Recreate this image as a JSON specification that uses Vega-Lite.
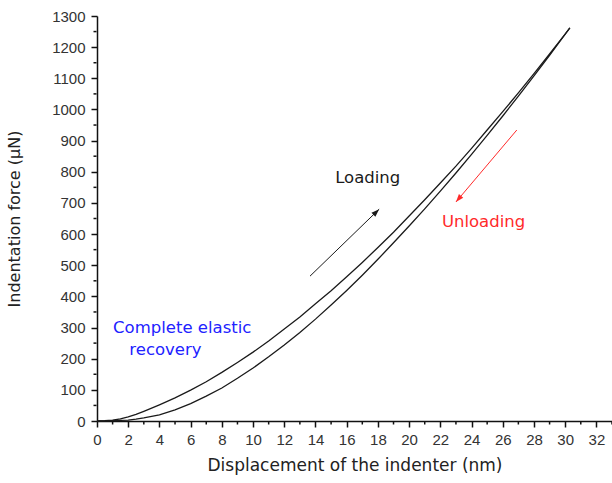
{
  "$schema": "https://vega.github.io/schema/vega-lite/v6.json",
  "width": 515,
  "height": 405,
  "autosize": {"type": "none"},
  "padding": {"left": 97, "top": 16, "right": 0, "bottom": 62},
  "background": "white",
  "config": {
    "view": {"stroke": null},
    "font": "Liberation Sans",
    "axis": {
      "domainColor": "#111111",
      "domainWidth": 1.5,
      "tickColor": "#111111",
      "tickWidth": 1.5,
      "labelColor": "#333333",
      "titleColor": "#222222",
      "labelFont": "Liberation Sans",
      "titleFont": "DejaVu Sans",
      "labelFontSize": 15,
      "titleFontWeight": "normal",
      "grid": false
    }
  },
  "datasets": {
    "curves": [
      {"branch": "loading", "x": 0, "F": 0},
      {"branch": "loading", "x": 0.5, "F": 1},
      {"branch": "loading", "x": 1, "F": 3},
      {"branch": "loading", "x": 1.5, "F": 7},
      {"branch": "loading", "x": 2, "F": 13},
      {"branch": "loading", "x": 2.5, "F": 21},
      {"branch": "loading", "x": 3, "F": 31},
      {"branch": "loading", "x": 4, "F": 52},
      {"branch": "loading", "x": 5, "F": 74},
      {"branch": "loading", "x": 6, "F": 99},
      {"branch": "loading", "x": 7, "F": 126},
      {"branch": "loading", "x": 8, "F": 156},
      {"branch": "loading", "x": 9, "F": 188},
      {"branch": "loading", "x": 10, "F": 221},
      {"branch": "loading", "x": 11, "F": 257},
      {"branch": "loading", "x": 12, "F": 295},
      {"branch": "loading", "x": 13, "F": 334},
      {"branch": "loading", "x": 14, "F": 376},
      {"branch": "loading", "x": 15, "F": 418},
      {"branch": "loading", "x": 16, "F": 463},
      {"branch": "loading", "x": 17, "F": 509},
      {"branch": "loading", "x": 18, "F": 557},
      {"branch": "loading", "x": 19, "F": 606},
      {"branch": "loading", "x": 20, "F": 658},
      {"branch": "loading", "x": 21, "F": 710},
      {"branch": "loading", "x": 22, "F": 764},
      {"branch": "loading", "x": 23, "F": 818},
      {"branch": "loading", "x": 24, "F": 875},
      {"branch": "loading", "x": 25, "F": 934},
      {"branch": "loading", "x": 26, "F": 993},
      {"branch": "loading", "x": 27, "F": 1053},
      {"branch": "loading", "x": 28, "F": 1115},
      {"branch": "loading", "x": 29, "F": 1178},
      {"branch": "loading", "x": 30, "F": 1242},
      {"branch": "loading", "x": 30.3, "F": 1262},
      {"branch": "unloading", "x": 0, "F": 0},
      {"branch": "unloading", "x": 0.5, "F": 0},
      {"branch": "unloading", "x": 1, "F": 1},
      {"branch": "unloading", "x": 1.5, "F": 2},
      {"branch": "unloading", "x": 2, "F": 3},
      {"branch": "unloading", "x": 2.5, "F": 6},
      {"branch": "unloading", "x": 3, "F": 10},
      {"branch": "unloading", "x": 4, "F": 20},
      {"branch": "unloading", "x": 5, "F": 36},
      {"branch": "unloading", "x": 6, "F": 56},
      {"branch": "unloading", "x": 7, "F": 80},
      {"branch": "unloading", "x": 8, "F": 106},
      {"branch": "unloading", "x": 9, "F": 137},
      {"branch": "unloading", "x": 10, "F": 170},
      {"branch": "unloading", "x": 11, "F": 206},
      {"branch": "unloading", "x": 12, "F": 244},
      {"branch": "unloading", "x": 13, "F": 284},
      {"branch": "unloading", "x": 14, "F": 327},
      {"branch": "unloading", "x": 15, "F": 372},
      {"branch": "unloading", "x": 16, "F": 419},
      {"branch": "unloading", "x": 17, "F": 468},
      {"branch": "unloading", "x": 18, "F": 519},
      {"branch": "unloading", "x": 19, "F": 572},
      {"branch": "unloading", "x": 20, "F": 626},
      {"branch": "unloading", "x": 21, "F": 681},
      {"branch": "unloading", "x": 22, "F": 738},
      {"branch": "unloading", "x": 23, "F": 796},
      {"branch": "unloading", "x": 24, "F": 856},
      {"branch": "unloading", "x": 25, "F": 917},
      {"branch": "unloading", "x": 26, "F": 979},
      {"branch": "unloading", "x": 27, "F": 1043},
      {"branch": "unloading", "x": 28, "F": 1108},
      {"branch": "unloading", "x": 29, "F": 1174},
      {"branch": "unloading", "x": 30, "F": 1242},
      {"branch": "unloading", "x": 30.3, "F": 1262}
    ],
    "labels": [
      {"label": "Loading", "x": 15.26, "F": 780, "kind": "black"},
      {"label": "Unloading", "x": 22.1, "F": 640, "kind": "red"},
      {"label": "Complete elastic", "x": 1.03, "F": 300, "kind": "blue"},
      {"label": "recovery", "x": 2.07, "F": 228, "kind": "blue"}
    ],
    "arrows": [
      {"kind": "black", "x": 13.65, "F": 465, "x2": 18.08, "F2": 680},
      {"kind": "red", "x": 26.9, "F": 934, "x2": 23.0, "F2": 703}
    ],
    "minorX": [
      {"v": 1}, {"v": 3}, {"v": 5}, {"v": 7}, {"v": 9}, {"v": 11}, {"v": 13}, {"v": 15}, {"v": 17},
      {"v": 19}, {"v": 21}, {"v": 23}, {"v": 25}, {"v": 27}, {"v": 29}, {"v": 31}, {"v": 33}
    ],
    "minorY": [
      {"v": 50}, {"v": 150}, {"v": 250}, {"v": 350}, {"v": 450}, {"v": 550}, {"v": 650},
      {"v": 750}, {"v": 850}, {"v": 950}, {"v": 1050}, {"v": 1150}, {"v": 1250}
    ]
  },
  "layer": [
    {
      "data": {"name": "curves"},
      "mark": {"type": "line", "color": "#1a1a1a", "strokeWidth": 1.3},
      "encoding": {
        "x": {
          "field": "x", "type": "quantitative",
          "scale": {"domain": [0, 33], "nice": false, "zero": false},
          "axis": {
            "orient": "bottom",
            "values": [0, 2, 4, 6, 8, 10, 12, 14, 16, 18, 20, 22, 24, 26, 28, 30, 32],
            "tickSize": 6, "labelPadding": 5, "titlePadding": 10,
            "titleFontSize": 17,
            "labelFlush": false, "labelOverlap": false,
            "title": "Displacement of the indenter (nm)"
          }
        },
        "y": {
          "field": "F", "type": "quantitative",
          "scale": {"domain": [0, 1300], "nice": false, "zero": false},
          "axis": {
            "orient": "left",
            "values": [0, 100, 200, 300, 400, 500, 600, 700, 800, 900, 1000, 1100, 1200, 1300],
            "format": "d",
            "tickSize": 6, "labelPadding": 6, "titlePadding": 29,
            "titleFontSize": 16,
            "labelFlush": false, "labelOverlap": false,
            "title": "Indentation force (µN)"
          }
        },
        "detail": {"field": "branch", "type": "nominal"},
        "order": {"field": "x", "type": "quantitative"}
      }
    },
    {
      "data": {"name": "minorX"},
      "mark": {"type": "tick", "orient": "vertical", "size": 3, "thickness": 1.5, "yOffset": 2, "color": "#111111", "opacity": 1},
      "encoding": {
        "x": {"field": "v", "type": "quantitative", "axis": null},
        "y": {"datum": 0, "type": "quantitative", "axis": null}
      }
    },
    {
      "data": {"name": "minorY"},
      "mark": {"type": "tick", "orient": "horizontal", "size": 3, "thickness": 1.5, "xOffset": -2, "color": "#111111", "opacity": 1},
      "encoding": {
        "x": {"datum": 0, "type": "quantitative", "axis": null},
        "y": {"field": "v", "type": "quantitative", "axis": null}
      }
    },
    {
      "data": {"name": "labels"},
      "mark": {"type": "text", "align": "left", "baseline": "middle", "fontSize": 16.5, "font": "DejaVu Sans"},
      "encoding": {
        "x": {"field": "x", "type": "quantitative", "axis": null},
        "y": {"field": "F", "type": "quantitative", "axis": null},
        "text": {"field": "label", "type": "nominal"},
        "color": {
          "field": "kind", "type": "nominal",
          "scale": {"domain": ["black", "red", "blue"], "range": ["#1a1a1a", "#ff2a2a", "#2222ff"]},
          "legend": null
        }
      }
    },
    {
      "data": {"name": "arrows"},
      "mark": {"type": "rule", "strokeWidth": 1},
      "encoding": {
        "x": {"field": "x", "type": "quantitative", "axis": null},
        "y": {"field": "F", "type": "quantitative", "axis": null},
        "x2": {"field": "x2"},
        "y2": {"field": "F2"},
        "color": {"field": "kind", "type": "nominal", "legend": null}
      }
    },
    {
      "data": {"name": "arrows"},
      "transform": [{"filter": "datum.kind === 'black'"}],
      "mark": {"type": "point", "shape": "M0,0L-0.35,1L0.35,1Z", "filled": true, "size": 256, "angle": 46, "opacity": 1, "color": "#1a1a1a"},
      "encoding": {
        "x": {"field": "x2", "type": "quantitative", "axis": null},
        "y": {"field": "F2", "type": "quantitative", "axis": null}
      }
    },
    {
      "data": {"name": "arrows"},
      "transform": [{"filter": "datum.kind === 'red'"}],
      "mark": {"type": "point", "shape": "M0,0L-0.35,1L0.35,1Z", "filled": true, "size": 256, "angle": 220, "opacity": 1, "color": "#ff2a2a"},
      "encoding": {
        "x": {"field": "x2", "type": "quantitative", "axis": null},
        "y": {"field": "F2", "type": "quantitative", "axis": null}
      }
    }
  ],
  "resolve": {"axis": {"x": "independent", "y": "independent"}}
}
